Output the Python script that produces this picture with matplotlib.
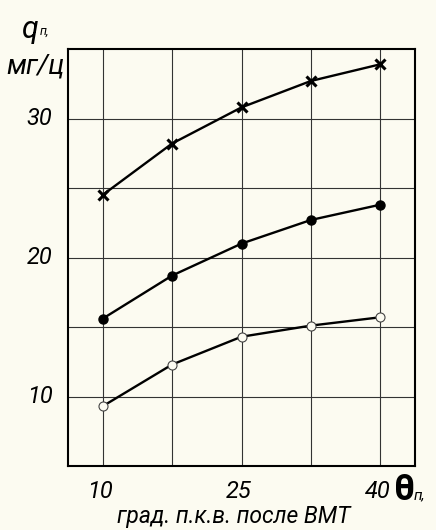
import matplotlib
matplotlib.use('Agg')
import matplotlib.pyplot as plt

theta = [10, 17.5, 25, 32.5, 40]
q_cross = [24.5, 28.2, 30.8, 32.7, 33.9]
q_fill = [15.6, 18.7, 21.0, 22.7, 23.8]
q_open = [9.3, 12.3, 14.3, 15.1, 15.7]

xticks = [10, 25, 40]
yticks = [10, 20, 30]

bg = '#fcfbf1'
fam = ['Roboto', 'DejaVu Sans']
fnt = dict(family=fam, style='italic', color='black')

fig = plt.figure(figsize=(4.36, 5.30), dpi=100, facecolor=bg)
ax = fig.add_axes([68/436, 1 - 466/530, 347/436, 417/530])
ax.set_facecolor(bg)

ax.plot(theta, q_cross, color='black', lw=1.7, marker='x', ms=7, mew=2.2, zorder=3)
ax.plot(theta, q_fill, color='black', lw=1.7, marker='o', ms=6.5, zorder=3)
ax.plot(theta, q_open, color='black', lw=1.7, zorder=3)
ax.plot(theta, q_open, ls='none', marker='o', ms=6.5, mfc=bg, mec='#444444', mew=0.8, zorder=4)

ax.set_xlim(6.25, 43.75)
ax.set_ylim(5, 35)
ax.set_xticks([10, 17.5, 25, 32.5, 40])
ax.set_yticks([10, 15, 20, 25, 30])
ax.set_xticklabels([])
ax.set_yticklabels([])
ax.tick_params(length=0)
ax.grid(True, color='#333333', lw=0.8)
for s in ax.spines.values():
    s.set_linewidth(1.5)
    s.set_color('black')

# tick labels placed like the hand-drawn original
for v in xticks:
    ax.text(v - 0.3, -0.062, str(v), transform=ax.get_xaxis_transform(),
            ha='center', va='center', fontsize=17, **fnt)
for v in yticks:
    ax.text(-0.045, v, str(v), transform=ax.get_yaxis_transform(),
            ha='right', va='center', fontsize=17, **fnt)

# axis labels
fig.text(22/436, 1 - 30/530, 'q', fontsize=22, ha='left', va='center', **fnt)
fig.text(40/436, 1 - 31/530, 'п,', fontsize=9, ha='left', va='center', **fnt)
fig.text(36/436, 1 - 67/530, 'мг/ц', fontsize=20, ha='center', va='center', **fnt)
fig.text(394/436, 1 - 490/530, 'θ', fontsize=26, ha='left', va='center',
         family=fam, weight='bold')
fig.text(414/436, 1 - 495/530, 'п,', fontsize=11, ha='left', va='center', **fnt)
fig.text(234/436, 1 - 517/530, 'град. п.к.в. после ВМТ', fontsize=16.5,
         ha='center', va='center', **fnt)

fig.savefig('out.png', dpi=100, facecolor=bg)
